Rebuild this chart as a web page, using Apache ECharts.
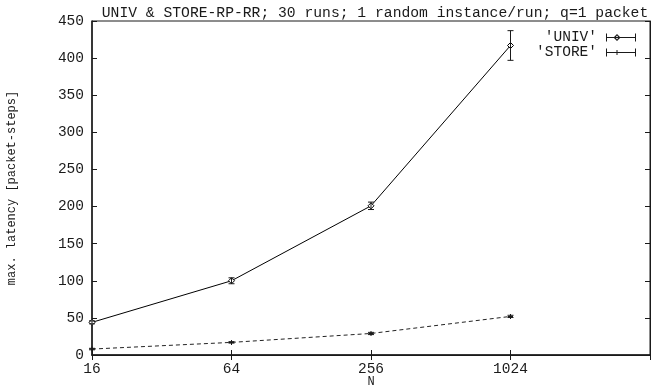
<!DOCTYPE html>
<html>
<head>
<meta charset="utf-8">
<script src="https://cdn.jsdelivr.net/npm/echarts@6/dist/echarts.min.js"></script>
<style>
  html, body { margin: 0; padding: 0; background: #fff; }
  #chart { width: 655px; height: 389px; }
</style>
</head>
<body>
<div id="chart"></div>
<script>
// data
const nValues = [16, 64, 256, 1024];
const univMean = [44, 100, 201, 417];
const univErr = [2, 4, 5, 20];
const storeMean = [8, 17, 29, 52];
const storeErr = [1, 1, 1.5, 1.5];
const yTicks = [0, 50, 100, 150, 200, 250, 300, 350, 400, 450];

const FONT = '"Liberation Mono", "DejaVu Sans Mono", monospace';
const INK = '#1a1a1a';

// errorbar renderer (vertical bar + caps), uses the axis scales
function errorBar(params, api) {
  const x = api.value(0);
  const lo = api.coord([x, api.value(1)]);
  const hi = api.coord([x, api.value(2)]);
  const cap = 3;
  const style = {stroke: INK, lineWidth: 1, fill: null};
  return {
    type: 'group',
    children: [
      {type: 'line', shape: {x1: lo[0], y1: lo[1], x2: hi[0], y2: hi[1]}, style: style},
      {type: 'line', shape: {x1: lo[0] - cap, y1: lo[1], x2: lo[0] + cap, y2: lo[1]}, style: style},
      {type: 'line', shape: {x1: hi[0] - cap, y1: hi[1], x2: hi[0] + cap, y2: hi[1]}, style: style}
    ]
  };
}

const univBars = nValues.map((n, i) => [n, univMean[i] - univErr[i], univMean[i] + univErr[i]]);
const storeBars = nValues.map((n, i) => [n, storeMean[i] - storeErr[i], storeMean[i] + storeErr[i]]);

// legend icons: errorbar line with the point symbol
const barIcon = 'M0,0 h1 v8 h-1 Z M29,0 h1 v8 h-1 Z M0,3.5 h30 v1 h-30 Z';
const univIcon = 'path://' + barIcon + ' M11,0.5 L14.5,4 L11,7.5 L7.5,4 Z M11,2 L9.5,4 L11,6 L12.5,4 Z';
const storeIcon = 'path://' + barIcon + ' M10.5,1.5 h1 v5 h-1 Z';

const chart = echarts.init(document.getElementById('chart'));

const option = {
  animation: false,
  textStyle: {fontFamily: FONT, color: INK},
  title: {
    text: 'UNIV & STORE-RP-RR; 30 runs; 1 random instance/run; q=1 packet',
    left: 370,
    textAlign: 'center',
    top: 1,
    textStyle: {fontFamily: FONT, fontSize: 14.7, fontWeight: 'normal', color: INK}
  },
  grid: {
    left: 92,
    right: 5,
    top: 21,
    bottom: 34,
    outerBoundsMode: 'none',
    containLabel: false,
    show: true,
    borderColor: INK,
    borderWidth: 1
  },
  legend: {
    orient: 'vertical',
    right: 19,
    top: 30,
    align: 'right',
    itemWidth: 30,
    itemHeight: 8,
    itemGap: 0,
    padding: 0,
    selectedMode: false,
    formatter: name => "'" + name + "'",
    textStyle: {fontFamily: FONT, fontSize: 14.5, lineHeight: 13, color: INK, padding: [0, 4, 0, 0]},
    data: [
      {name: 'UNIV', icon: univIcon, itemStyle: {color: INK, borderWidth: 0}},
      {name: 'STORE', icon: storeIcon, itemStyle: {color: INK, borderWidth: 0}}
    ]
  },
  xAxis: [{
    type: 'log',
    logBase: 4,
    min: 16,
    max: 4096,
    name: 'N',
    nameLocation: 'middle',
    nameGap: 27,
    nameMoveOverlap: false,
    nameTextStyle: {fontFamily: FONT, fontSize: 12, color: INK, verticalAlign: 'middle'},
    axisLine: {lineStyle: {color: INK, width: 1.5}},
    axisTick: {inside: true, length: 5, lineStyle: {color: INK}},
    axisLabel: {
      fontFamily: FONT, fontSize: 14.5, color: INK, margin: 7,
      formatter: v => (v > 1024 ? '' : String(Math.round(v)))
    },
    splitLine: {show: false},
    minorTick: {show: false}
  }, {
    type: 'log',
    logBase: 4,
    min: 16,
    max: 4096,
    position: 'top',
    axisLine: {lineStyle: {color: INK, width: 1}},
    axisTick: {inside: true, length: 5, lineStyle: {color: INK}},
    axisLabel: {show: false},
    splitLine: {show: false}
  }],
  yAxis: [{
    type: 'value',
    min: yTicks[0],
    max: yTicks[yTicks.length - 1],
    interval: 50,
    name: 'max. latency [packet-steps]',
    nameLocation: 'middle',
    nameGap: 74,
    nameRotate: 90,
    nameMoveOverlap: false,
    nameTextStyle: {fontFamily: FONT, fontSize: 12, color: INK},
    axisLine: {show: true, lineStyle: {color: INK, width: 1.5}},
    axisTick: {show: true, inside: true, length: 5, lineStyle: {color: INK}},
    axisLabel: {fontFamily: FONT, fontSize: 14.5, color: INK, margin: 8},
    splitLine: {show: false}
  }, {
    type: 'value',
    min: yTicks[0],
    max: yTicks[yTicks.length - 1],
    interval: 50,
    position: 'right',
    axisLine: {show: true, lineStyle: {color: INK, width: 1}},
    axisTick: {show: true, inside: true, length: 5, lineStyle: {color: INK}},
    axisLabel: {show: false},
    splitLine: {show: false}
  }],
  series: [{
    name: 'UNIV',
    type: 'line',
    data: nValues.map((n, i) => [n, univMean[i]]),
    symbol: 'diamond',
    symbolSize: 6,
    showAllSymbol: true,
    itemStyle: {color: '#fff', borderColor: '#000', borderWidth: 1},
    lineStyle: {color: '#000', width: 1},
    z: 3
  }, {
    name: 'STORE',
    type: 'line',
    data: nValues.map((n, i) => [n, storeMean[i]]),
    symbol: 'path://M2,0 h1 v5 h-1 Z M0,2 h5 v1 h-5 Z',
    symbolSize: 5,
    itemStyle: {color: INK},
    lineStyle: {color: '#222', width: 1, type: [4, 3]},
    z: 3
  }, {
    name: 'UNIV err',
    type: 'custom',
    renderItem: errorBar,
    data: univBars,
    z: 4
  }, {
    name: 'STORE err',
    type: 'custom',
    renderItem: errorBar,
    data: storeBars,
    z: 4
  }]
};

chart.setOption(option);
</script>
</body>
</html>
